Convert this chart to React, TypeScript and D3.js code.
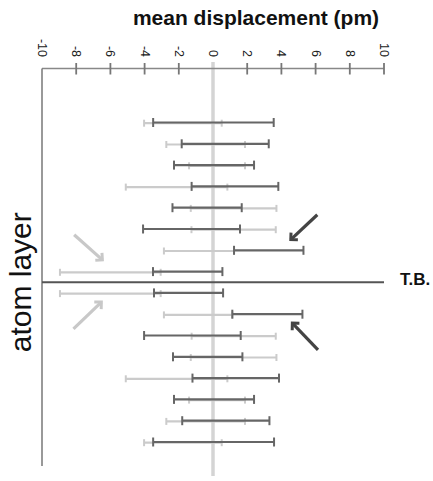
import React from 'react';
import * as d3 from 'd3';

// atom layers, top to bottom (twin boundary between 8 and 9)
const layers = [1, 2, 3, 4, 5, 6, 7, 8, 9, 10, 11, 12, 13, 14, 15, 16];

// dark series (range of displacement, pm)
const darkLo = [-3.5, -1.83, -2.28, -1.25, -2.37, -4.09, 1.23, -3.51, -3.45, 1.13, -4.03, -2.34, -1.2, -2.28, -1.8, -3.5];
const darkHi = [3.55, 3.26, 2.4, 3.82, 1.68, 1.58, 5.29, 0.55, 0.59, 5.23, 1.62, 1.72, 3.86, 2.4, 3.3, 3.57];

// light series
const lightLo = [-4.03, -2.73, -1.4, -5.1, -1.3, -1.26, -2.87, -8.95, -8.95, -2.87, -1.25, -1.3, -5.1, -1.4, -2.73, -4.03];
const lightHi = [0.51, 1.87, 1.87, 0.84, 3.71, 3.67, 1.23, -3.06, -3.06, 1.13, 3.67, 3.71, 0.84, 1.87, 1.87, 0.51];

const xTicks = [-10, -8, -6, -4, -2, 0, 2, 4, 6, 8, 10];

// annotation arrows in data units (x = displacement, y = layer)
const arrows = [
  { x1: 6.1, y1: 5.33, x2: 4.55, y2: 6.5, dark: true },
  { x1: 6.14, y1: 11.67, x2: 4.64, y2: 10.42, dark: true },
  { x1: -8.12, y1: 6.27, x2: -6.47, y2: 7.45, dark: false },
  { x1: -8.16, y1: 10.69, x2: -6.53, y2: 9.43, dark: false },
];

const width = 433;
const height = 481;
const font = "'Liberation Sans', Arial, Helvetica, sans-serif";

export default function App() {
  const x = d3.scaleLinear().domain([-10, 10]).range([42, 384]);
  const y = d3.scaleLinear().domain([1, 16]).range([122.5, 442]);
  const axisY = 68.5;
  const tbY = y(8.5);

  const bar = (lo: number, hi: number, yy: number, color: string, sw: number, cap: number, key: string) => (
    <g key={key}>
      <line x1={x(lo)} x2={x(hi)} y1={yy} y2={yy} stroke={color} strokeWidth={sw} />
      <line x1={x(lo)} x2={x(lo)} y1={yy - cap / 2} y2={yy + cap / 2} stroke={color} strokeWidth={2} />
      <line x1={x(hi)} x2={x(hi)} y1={yy - cap / 2} y2={yy + cap / 2} stroke={color} strokeWidth={2} />
    </g>
  );

  return (
    <svg width={width} height={height} style={{ position: 'absolute', left: 0, top: 0, background: '#fff' }}>
      <defs>
        <marker id="headDark" markerUnits="userSpaceOnUse" markerWidth="14" markerHeight="14" refX="7" refY="7" orient="auto" viewBox="0 0 14 14">
          <path d="M2,2 L7,7 L2,12" fill="none" stroke="#444" strokeWidth="3" />
        </marker>
        <marker id="headLight" markerUnits="userSpaceOnUse" markerWidth="14" markerHeight="14" refX="7" refY="7" orient="auto" viewBox="0 0 14 14">
          <path d="M2,2 L7,7 L2,12" fill="none" stroke="#c8c8c8" strokeWidth="3" />
        </marker>
      </defs>

      {/* title */}
      <text x={256} y={25} textAnchor="middle" fontFamily={font} fontWeight="bold" fontSize={21} fill="#111">
        mean displacement (pm)
      </text>

      {/* zero line */}
      <line x1={x(0)} x2={x(0)} y1={62} y2={476} stroke="#d4d4d4" strokeWidth={3.5} />

      {/* top axis */}
      <line x1={x(-10)} x2={x(10)} y1={axisY} y2={axisY} stroke="#888" strokeWidth={1.5} />
      <line x1={x(-10)} x2={x(-10)} y1={axisY} y2={466} stroke="#777" strokeWidth={1.5} />
      {xTicks.filter(t => t !== -10 && t !== 0).map(t => (
        <line key={'t' + t} x1={x(t)} x2={x(t)} y1={axisY - 5.5} y2={axisY + 6} stroke="#777" strokeWidth={1.8} />
      ))}
      {xTicks.map(t => (
        <text key={'l' + t} transform={`translate(${x(t)},57) rotate(90)`} textAnchor="end" dominantBaseline="central"
          fontFamily={font} fontSize={12.5} fill="#222">
          {t}
        </text>
      ))}

      {/* light bars */}
      {layers.map((l, i) => bar(lightLo[i], lightHi[i], y(l) + 0.7, '#cbcbcb', 2.2, 7, 'lb' + l))}
      {/* dark bars */}
      {layers.map((l, i) => bar(darkLo[i], darkHi[i], y(l), '#666', 2.2, 9, 'db' + l))}

      {/* twin boundary */}
      <line x1={x(-10)} x2={x(10)} y1={tbY} y2={tbY} stroke="#555" strokeWidth={2} />
      <text x={400} y={285} fontFamily={font} fontWeight="bold" fontSize={17} fill="#111">T.B.</text>

      {/* arrows */}
      {arrows.map((a, i) => (
        <line key={'a' + i} x1={x(a.x1)} y1={y(a.y1)} x2={x(a.x2)} y2={y(a.y2)}
          stroke={a.dark ? '#444' : '#c8c8c8'} strokeWidth={3.2}
          markerEnd={a.dark ? 'url(#headDark)' : 'url(#headLight)'} />
      ))}

      {/* y label */}
      <text transform={`translate(31,${tbY}) rotate(-90)`} textAnchor="middle" fontFamily={font} fontSize={30} fill="#111">
        atom layer
      </text>
    </svg>
  );
}
